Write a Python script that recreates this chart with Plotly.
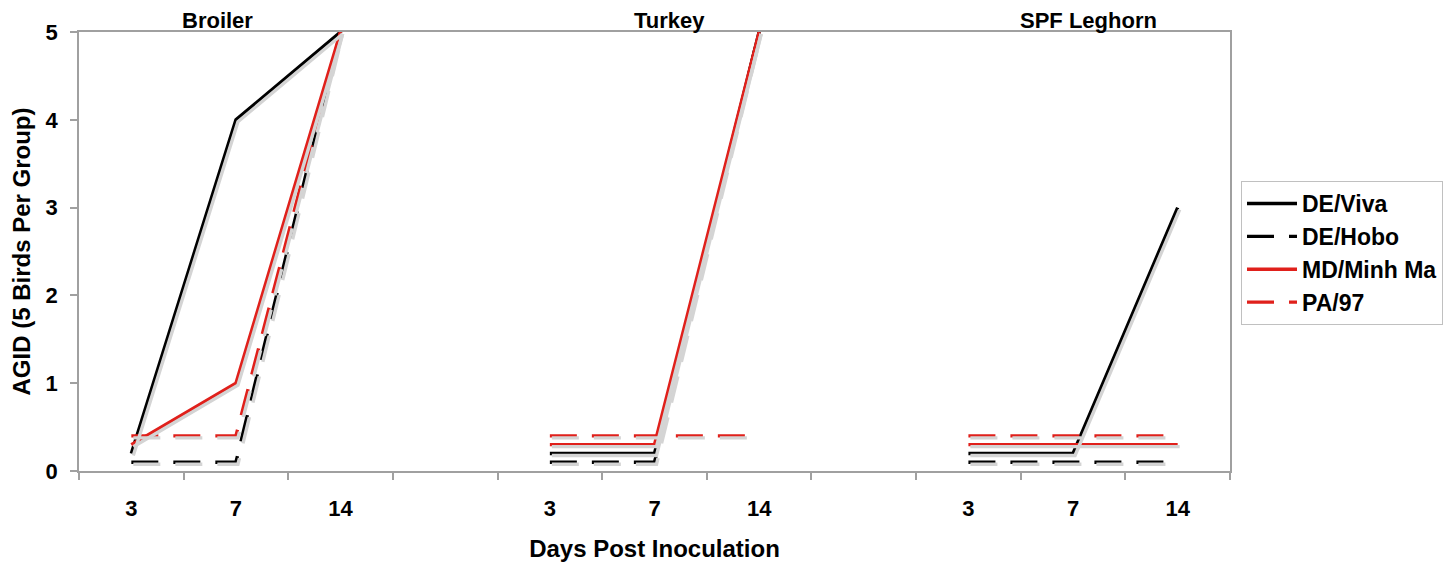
import plotly.graph_objects as go

# ---- data ----
categories = ["3", "7", "14", "", "3", "7", "14", "", "3", "7", "14"]
groups = ["Broiler", "Turkey", "SPF Leghorn"]
group_label_x = [0.120, 0.513, 0.877]  # paper positions of the group titles

de_viva = [0.2, 4, 5, None, 0.2, 0.2, 5, None, 0.2, 0.2, 3]
de_hobo = [0.1, 0.1, 5, None, 0.1, 0.1, 5, None, 0.1, 0.1, 0.1]
md_minh = [0.3, 1, 5, None, 0.3, 0.3, 5, None, 0.3, 0.3, 0.3]
pa_97 = [0.4, 0.4, 5, None, 0.4, 0.4, 0.4, None, 0.4, 0.4, 0.4]

series_names = ["DE/Viva", "DE/Hobo", "MD/Minh Ma", "PA/97"]
series_values = [de_viva, de_hobo, md_minh, pa_97]
series_colors = ["#000000", "#000000", "#e0201b", "#e0201b"]
series_dash = ["solid", "27px,15px", "solid", "27px,15px"]

y_ticks = [0, 1, 2, 3, 4, 5]

x_idx = list(range(len(categories)))
font_family = "Liberation Sans, Arial, sans-serif"
gray = "#a0a0a0"

W, H = 1443, 559
ML, MR, MT, MB = 71, 221, 24, 96
plot_w = W - ML - MR
plot_h = H - MT - MB
x_lo, x_hi = -0.5, len(categories) - 0.5
y_lo, y_hi = 0, 5
# shadow offset (pixels) expressed through a second, slightly shifted axis pair
sh_px = 2
dx = sh_px * (x_hi - x_lo) / plot_w
dy = sh_px * (y_hi - y_lo) / plot_h

fig = go.Figure()
for name, vals, dash in zip(series_names, series_values, series_dash):
    fig.add_trace(go.Scatter(
        x=x_idx, y=vals, name=name + " shadow", mode="lines",
        line=dict(color="#d4d4d4", width=3.4, dash=dash),
        connectgaps=False, showlegend=False, hoverinfo="skip",
        xaxis="x2", yaxis="y2",
    ))
for name, vals, col, dash in zip(series_names, series_values, series_colors, series_dash):
    fig.add_trace(go.Scatter(
        x=x_idx, y=vals, name=name, mode="lines",
        line=dict(color=col, width=3.4, dash=dash),
        connectgaps=False,
    ))

label_idx = [i for i, c in enumerate(categories) if c != ""]
boundaries = [i - 0.5 for i in range(len(categories) + 1)]

fig.update_layout(
    width=W, height=H,
    margin=dict(l=ML, r=MR, t=MT, b=MB, autoexpand=False),
    paper_bgcolor="white", plot_bgcolor="white",
    font=dict(family=font_family, size=22, color="black", weight="bold"),
    showlegend=True,
    legend=dict(
        x=(1241 - 79) / 1151, xanchor="left", y=0.6606, yanchor="top",
        bgcolor="white", bordercolor="#c0c0c0", borderwidth=1,
        font=dict(family=font_family, size=23, color="black", weight="bold"),
        tracegroupgap=0, itemwidth=50,
    ),
    xaxis=dict(
        range=[x_lo, x_hi],
        tickmode="array", tickvals=label_idx,
        ticktext=[categories[i] for i in label_idx],
        ticks="", showgrid=False, zeroline=False,
        showline=True, linecolor=gray, linewidth=1.5, mirror=True,
        ticklabelstandoff=17,
        tickfont=dict(family=font_family, size=22, color="black", weight="bold"),
        minor=dict(tickmode="array", tickvals=boundaries, ticks="outside",
                   ticklen=7, tickcolor=gray, tickwidth=1.5, showgrid=False),
        title=dict(text="Days Post Inoculation", standoff=20,
                   font=dict(family=font_family, size=24, color="black", weight="bold")),
    ),
    yaxis=dict(
        range=[y_lo, y_hi], tickmode="array", tickvals=y_ticks,
        ticks="outside", ticklen=7, tickcolor=gray, tickwidth=1.5,
        showgrid=False, zeroline=False,
        showline=True, linecolor=gray, linewidth=1.5, mirror=True,
        ticklabelstandoff=8,
        tickfont=dict(family=font_family, size=22, color="black", weight="bold"),
        title=dict(text="AGID (5 Birds Per Group)", standoff=12,
                   font=dict(family=font_family, size=24, color="black", weight="bold")),
    ),
    xaxis2=dict(range=[x_lo - dx, x_hi - dx], overlaying="x", visible=False),
    yaxis2=dict(range=[y_lo + dy, y_hi + dy], overlaying="y", visible=False),
)

for g, gx in zip(groups, group_label_x):
    fig.add_annotation(
        x=gx, y=1, xref="paper", yref="paper", xanchor="center", yanchor="middle",
        text=g, showarrow=False, yshift=12, borderpad=0,
        font=dict(family=font_family, size=22, color="black", weight="bold"),
    )

fig.write_html("out.html")
